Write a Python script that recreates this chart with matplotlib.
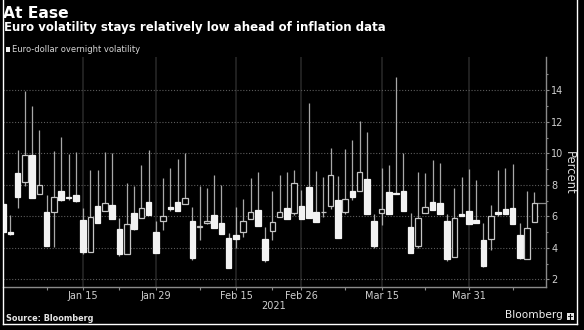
import matplotlib
matplotlib.use("Agg")
import matplotlib.pyplot as plt
from matplotlib.patches import Rectangle
from matplotlib.lines import Line2D
import pandas as pd

# Trading days covered by the chart
dates = pd.bdate_range("2020-12-31", "2021-04-13")

# Euro-dollar overnight implied volatility, daily OHLC (percent)
open_ = [6.76, 5.00, 8.77, 8.20, 9.87, 7.40, 6.28, 6.30, 7.63, 7.25,
         7.33, 5.75, 3.76, 6.66, 6.36, 6.72, 5.17, 3.61, 6.21, 5.87,
         6.89, 5.03, 5.72, 6.59, 6.89, 6.76, 5.68, 5.35, 5.60, 6.06,
         5.60, 4.65, 4.82, 5.03, 5.85, 6.38, 4.55, 5.05, 5.94, 6.51,
         6.19, 6.63, 7.86, 6.28, 6.25, 6.65, 7.06, 6.25, 7.61, 7.59,
         8.37, 5.72, 6.23, 7.55, 7.50, 7.61, 5.30, 4.12, 6.19, 6.89,
         6.83, 5.68, 3.40, 6.17, 6.34, 5.75, 4.48, 4.56, 6.28, 6.47,
         6.53, 4.80, 3.27, 5.64]
high = [6.76, 6.08, 10.21, 13.96, 13.03, 11.48, 7.35, 10.17, 11.04, 9.96,
        10.08, 6.51, 8.94, 8.94, 10.08, 10.04, 5.89, 8.14, 7.93, 9.26,
        10.21, 5.70, 8.41, 9.09, 9.64, 10.00, 6.61, 7.93, 7.80, 8.62,
        8.01, 4.94, 6.61, 7.08, 8.43, 8.84, 5.34, 7.61, 8.65, 8.84,
        8.94, 7.67, 13.17, 8.88, 8.52, 10.36, 8.56, 10.30, 10.85, 12.05,
        11.34, 6.15, 9.05, 9.24, 14.87, 10.04, 6.23, 8.80, 8.75, 9.58,
        9.37, 6.15, 7.82, 8.52, 9.03, 8.31, 5.60, 6.72, 8.96, 9.05,
        9.30, 5.58, 7.63, 7.52]
low = [5.03, 4.80, 6.55, 7.95, 7.14, 7.40, 4.12, 4.07, 6.98, 7.05,
       6.89, 3.59, 3.72, 5.60, 6.36, 5.83, 3.48, 3.61, 5.13, 5.87,
       6.08, 3.65, 5.11, 6.36, 6.36, 6.76, 3.21, 4.50, 5.51, 5.26,
       4.90, 2.74, 3.96, 4.71, 5.85, 5.39, 3.08, 4.48, 5.94, 5.81,
       6.11, 5.81, 5.87, 5.66, 5.94, 6.47, 4.60, 6.15, 7.04, 7.59,
       6.17, 3.97, 5.45, 6.17, 7.42, 6.36, 3.65, 3.97, 6.19, 6.38,
       6.15, 3.16, 3.40, 6.00, 5.51, 5.58, 2.78, 3.86, 6.00, 6.13,
       5.49, 3.29, 3.27, 5.64]
close = [5.03, 4.85, 7.21, 9.89, 7.14, 8.00, 4.12, 7.25, 7.02, 7.16,
         6.97, 3.71, 5.98, 5.60, 6.83, 5.83, 3.59, 5.49, 5.17, 6.51,
         6.08, 3.65, 6.04, 6.49, 6.36, 7.14, 3.35, 5.39, 5.72, 5.26,
         4.90, 2.74, 4.54, 5.68, 6.28, 5.39, 3.23, 5.66, 6.25, 5.81,
         8.10, 5.81, 5.87, 5.66, 6.29, 8.65, 4.60, 7.08, 7.25, 8.84,
         6.17, 4.12, 6.44, 6.17, 7.44, 6.36, 3.69, 5.92, 6.59, 6.38,
         6.15, 3.29, 5.92, 6.00, 5.51, 5.58, 2.87, 6.02, 6.13, 6.13,
         5.49, 3.35, 5.24, 6.83]

label_days = ["2021-01-15", "2021-01-29", "2021-02-15", "2021-02-26",
              "2021-03-15", "2021-03-31"]
minor_days = ["2021-01-08", "2021-01-22", "2021-02-08", "2021-02-22",
              "2021-03-08", "2021-03-23", "2021-04-08"]
y_ticks = [2, 4, 6, 8, 10, 12, 14]

W, H = 584, 330
BG = "#000000"
AXIS = "#8a8a8a"
TICKTXT = "#cfcfcf"


def fx(px):
    return px / W


def fy(py):
    return 1 - py / H


fig = plt.figure(figsize=(W / 100, H / 100), dpi=100, facecolor=BG)
ax = fig.add_axes([fx(3), fy(286.7), fx(545.7) - fx(3), fy(57) - fy(286.7)])
ax.set_facecolor(BG)

# candlesticks
body_w = 0.76
for i, (o, h, l, c) in enumerate(zip(open_, high, low, close)):
    ax.vlines(i, l, h, color="#a8a8a8", lw=0.9, zorder=3)
    up = c >= o
    bottom = min(o, c)
    height = max(abs(c - o), 0.03)
    ax.add_patch(Rectangle((i - body_w / 2, bottom), body_w, height,
                           facecolor=BG if up else "#f2f2f2",
                           edgecolor="#c4c4c4" if up else "#f2f2f2",
                           lw=0.9, zorder=4))

# last value marker
ax.hlines(close[-1], len(close) - 1 + body_w / 2, 74.55, color=AXIS, lw=0.9, zorder=3)

ax.set_xlim(0, 74.55)
ax.set_ylim(1.53, 16.11)

major_pos = dates.get_indexer(pd.to_datetime(label_days))
minor_pos = dates.get_indexer(pd.to_datetime(minor_days))
ax.set_xticks(major_pos)
ax.set_xticklabels([dates[p].strftime("%b %d") for p in major_pos])
ax.set_xticks(minor_pos, minor=True)

ax.yaxis.tick_right()
ax.set_yticks(y_ticks)
ax.set_yticks(range(3, 16, 2), minor=True)

ax.grid(axis="x", which="major", color="#262626", lw=1.2, ls="-", zorder=0)
ax.grid(axis="y", which="major", color="#5c5c5c", lw=0.8, ls=(0, (1, 1.6)), zorder=0)

for s in ["left", "top"]:
    ax.spines[s].set_visible(False)
for s in ["right", "bottom"]:
    ax.spines[s].set_color(AXIS)
    ax.spines[s].set_linewidth(1.0)

ax.tick_params(axis="x", which="both", colors=AXIS, length=2.5, width=0.8,
               labelcolor=TICKTXT, labelsize=7, pad=0.5)
ax.tick_params(axis="y", which="major", colors=AXIS, length=2.5, width=0.8,
               labelcolor=TICKTXT, labelsize=7, pad=1.5)
ax.tick_params(axis="y", which="minor", colors=AXIS, length=1.5, width=0.8)

# titles and annotations
fig.text(fx(3.3), fy(18), "At Ease", color="white", fontsize=11.2,
         fontweight="bold", va="baseline", ha="left")
fig.text(fx(4), fy(31.5), "Euro volatility stays relatively low ahead of inflation data",
         color="white", fontsize=8.5, fontweight="bold", va="baseline", ha="left")
fig.patches.append(Rectangle((fx(6), fy(51.7)), fx(10) - fx(6), fy(46.7) - fy(51.7),
                             transform=fig.transFigure, facecolor="#eeeeee",
                             edgecolor="none"))
fig.text(fx(11.5), fy(52), "Euro-dollar overnight volatility", color="#d8d8d8",
         fontsize=6, va="baseline", ha="left")
fig.text(fx(569), fy(173), "Percent", color="#dcdcdc", fontsize=8.3,
         rotation=-90, va="center", ha="center")
fig.text(fx(274), fy(305.7), "2021", color=TICKTXT, fontsize=7,
         va="center", ha="center")
fig.text(fx(6), fy(321), "Source: Bloomberg", color="#e6e6e6", fontsize=5.9,
         fontweight="bold", va="baseline", ha="left")
fig.text(fx(505), fy(318.5), "Bloomberg", color="#f0f0f0", fontsize=7.6,
         va="baseline", ha="left")

# small logo mark
fig.patches.append(Rectangle((fx(566.5), fy(320)), fx(574) - fx(566.5), fy(312.7) - fy(320),
                             transform=fig.transFigure, facecolor="#e6e6e6",
                             edgecolor="none"))
fig.add_artist(Line2D([fx(570.2), fx(570.2)], [fy(318.5), fy(314)],
                      transform=fig.transFigure, color="black", lw=0.8))
fig.add_artist(Line2D([fx(568.2), fx(572.2)], [fy(316), fy(316)],
                      transform=fig.transFigure, color="black", lw=0.6))

# outer frame
for xs, ys in [([3, 3], [0, 324]), ([3, 577], [324, 324]), ([577, 577], [0, 324])]:
    fig.add_artist(Line2D([fx(v) for v in xs], [fy(v) for v in ys],
                          transform=fig.transFigure, color="white", lw=1.0))

fig.savefig("out.png", dpi=100, facecolor=BG)
